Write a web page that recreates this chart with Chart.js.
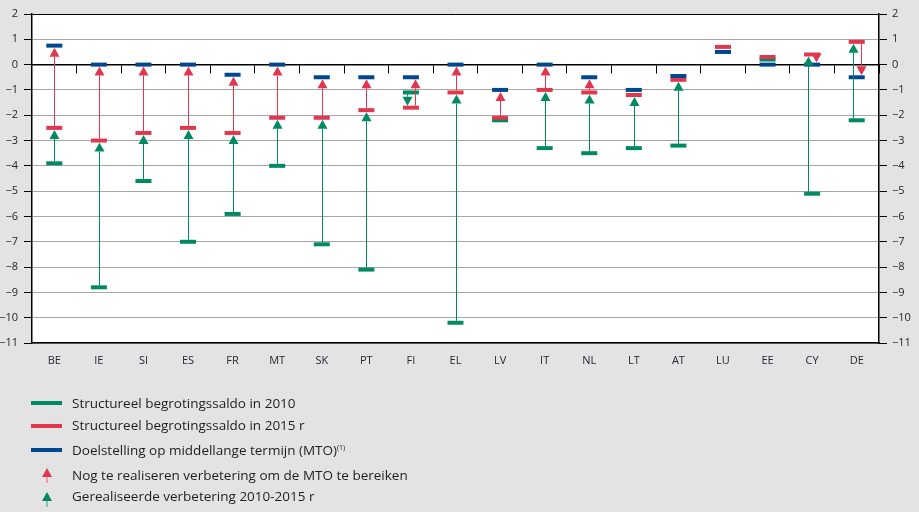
<!DOCTYPE html>
<html><head><meta charset="utf-8">
<script src="https://cdn.jsdelivr.net/npm/chart.js@4.4.1/dist/chart.umd.min.js"></script>
<style>
html,body{margin:0;padding:0;background:#e3e3e3;}
#wrap{position:relative;width:919px;height:512px;overflow:hidden;font-family:"Open Sans",sans-serif;}
#c{position:absolute;left:0;top:0;}
.lg{position:absolute;left:72px;font-size:13.5px;color:#1e1e1e;line-height:16px;white-space:nowrap;}
.ln{position:absolute;left:31px;width:31px;height:4px;}
.ar{position:absolute;left:42px;}
sup{font-size:7px;vertical-align:5px;line-height:0;}
</style></head>
<body>
<div id="wrap">
<canvas id="c" width="919" height="512"></canvas>
<div class="ln" style="top:401px;background:#008962"></div>
<div class="lg" style="top:395px">Structureel begrotingssaldo in 2010</div>
<div class="ln" style="top:424px;background:#e0374f"></div>
<div class="lg" style="top:417px">Structureel begrotingssaldo in 2015 r</div>
<div class="ln" style="top:448px;background:#00478d"></div>
<div class="lg" style="top:442px">Doelstelling op middellange termijn (MTO)<sup>(1)</sup></div>
<svg class="ar" style="top:468px" width="10" height="15"><line x1="5" y1="8" x2="5" y2="15" stroke="#e98a98" stroke-width="1.5"/><polygon points="0,9 5,0 10,9" fill="#e0374f"/></svg>
<div class="lg" style="top:467px">Nog te realiseren verbetering om de MTO te bereiken</div>
<svg class="ar" style="top:492px" width="10" height="15"><line x1="5" y1="8" x2="5" y2="15" stroke="#6fb89d" stroke-width="1.5"/><polygon points="0,9 5,0 10,9" fill="#008962"/></svg>
<div class="lg" style="top:488px">Gerealiseerde verbetering 2010-2015 r</div>
</div>
<script>
const countries = ['BE','IE','SI','ES','FR','MT','SK','PT','FI','EL','LV','IT','NL','LT','AT','LU','EE','CY','DE'];
const saldo2010 = [-3.9,-8.8,-4.6,-7.0,-5.9,-4.0,-7.1,-8.1,-1.1,-10.2,-2.2,-3.3,-3.5,-3.3,-3.2,null,0.2,-5.1,-2.2];
const saldo2015 = [-2.5,-3.0,-2.7,-2.5,-2.7,-2.1,-2.1,-1.8,-1.7,-1.1,-2.1,-1.0,-1.1,-1.2,-0.6,0.7,0.3,0.4,0.9];
const mto       = [0.75,0,0,0,-0.4,0,-0.5,-0.5,-0.5,0,-1.0,0,-0.5,-1.0,-0.45,0.5,0,0,-0.5];
const yMin = -11, yMax = 2;

const GREEN = '#008962', RED = '#e0374f', BLUE = '#00478d';
const FONT = '"Open Sans", sans-serif';
const MIN_ARROW = 0.35;

const fmt = v => v < 0 ? '\u2212' + Math.abs(v) : String(v);

const bgPlugin = {
  id: 'bg',
  beforeDraw(chart) {
    const {ctx, chartArea: a} = chart;
    ctx.save();
    ctx.fillStyle = '#e3e3e3';
    ctx.fillRect(0, 0, chart.width, chart.height);
    ctx.fillStyle = '#ffffff';
    ctx.fillRect(a.left, a.top, a.right - a.left, a.bottom - a.top);
    ctx.restore();
  }
};

function drawArrow(ctx, x, yStart, yEnd, color) {
  const dir = yEnd < yStart ? -1 : 1;
  const tip = yEnd - dir * 2;
  const base = tip - dir * 9;
  const startPix = yStart + dir * 2;
  const xl = Math.round(x) + 0.5;
  ctx.strokeStyle = color;
  ctx.lineWidth = 1;
  if ((base - startPix) * dir > 0) {
    ctx.beginPath(); ctx.moveTo(xl, startPix); ctx.lineTo(xl, base); ctx.stroke();
  }
  ctx.fillStyle = color;
  ctx.beginPath();
  ctx.moveTo(xl, tip); ctx.lineTo(xl - 5, base); ctx.lineTo(xl + 5, base);
  ctx.closePath(); ctx.fill();
}

const arrowPlugin = {
  id: 'arrows',
  afterDatasetsDraw(chart) {
    const {ctx} = chart;
    const xs = chart.scales.x, ys = chart.scales.y;
    ctx.save();
    countries.forEach((c, i) => {
      const a = saldo2010[i], b = saldo2015[i], m = mto[i];
      const gOk = a != null && b != null && Math.abs(b - a) >= MIN_ARROW;
      const rOk = b != null && m != null && Math.abs(m - b) >= MIN_ARROW;
      let gOff = 0, rOff = 0;
      if (gOk && rOk) {
        const ov = Math.min(Math.max(a, b), Math.max(b, m)) - Math.max(Math.min(a, b), Math.min(b, m));
        if (ov > 0.01) { gOff = -4; rOff = 4; }
      }
      const x = xs.getPixelForValue(i);
      if (gOk) drawArrow(ctx, x + gOff, ys.getPixelForValue(a), ys.getPixelForValue(b), GREEN);
      if (rOk) drawArrow(ctx, x + rOff, ys.getPixelForValue(b), ys.getPixelForValue(m), RED);
    });
    ctx.restore();
  }
};

const marker = (label, data, color, order) => ({
  label, data, order,
  xAxisID: 'x', yAxisID: 'y',
  showLine: false,
  pointStyle: 'line',
  pointRadius: 8, pointHoverRadius: 8,
  pointBorderWidth: 4, pointHoverBorderWidth: 4,
  pointBorderColor: color, pointBackgroundColor: color,
  borderColor: color, backgroundColor: color
});

new Chart(document.getElementById('c'), {
  type: 'line',
  data: {
    labels: countries,
    datasets: [
      marker('Structureel begrotingssaldo in 2010', saldo2010, GREEN, 3),
      marker('Structureel begrotingssaldo in 2015 r', saldo2015, RED, 2),
      marker('Doelstelling op middellange termijn (MTO)', mto, BLUE, 1)
    ]
  },
  options: {
    responsive: false,
    animation: false,
    events: [],
    layout: {padding: {left: 0, right: 0, top: 14, bottom: 0}},
    plugins: {legend: {display: false}, tooltip: {enabled: false}},
    scales: {
      x: {
        type: 'category', position: 'bottom', offset: true,
        grid: {display: false, drawTicks: false, offset: true},
        border: {display: true, color: '#000', width: 1.5},
        ticks: {padding: 11, color: '#262636', font: {family: FONT, size: 11}, autoSkip: false, maxRotation: 0},
        afterFit(s) { s.height = 169; }
      },
      x0: {
        type: 'category', labels: countries, position: {y: 0}, offset: true,
        grid: {display: true, drawOnChartArea: false, drawTicks: true, tickLength: 8, offset: true, color: '#000', tickColor: '#000', lineWidth: 1},
        border: {display: true, color: '#000', width: 1.5},
        ticks: {display: false}
      },
      y: {
        position: 'left', min: yMin, max: yMax,
        ticks: {stepSize: 1, padding: 6, color: '#262626', font: {family: FONT, size: 11}, callback: fmt},
        grid: {
          color: c => (c.tick && (c.tick.value === yMax || c.tick.value === 0)) ? '#000' : '#a6a6a6',
          tickColor: '#000', tickLength: 8, drawTicks: true, lineWidth: 1
        },
        border: {display: true, color: '#000', width: 1.5},
        afterFit(s) { s.width = 32; }
      },
      y2: {
        position: 'right', min: yMin, max: yMax,
        ticks: {stepSize: 1, padding: 5, color: '#262626', font: {family: FONT, size: 11}, callback: fmt},
        grid: {drawOnChartArea: false, tickColor: '#000', tickLength: 8, drawTicks: true},
        border: {display: true, color: '#000', width: 1.5},
        afterFit(s) { s.width = 40; }
      }
    }
  },
  plugins: [bgPlugin, arrowPlugin]
});
</script>
</body></html>
